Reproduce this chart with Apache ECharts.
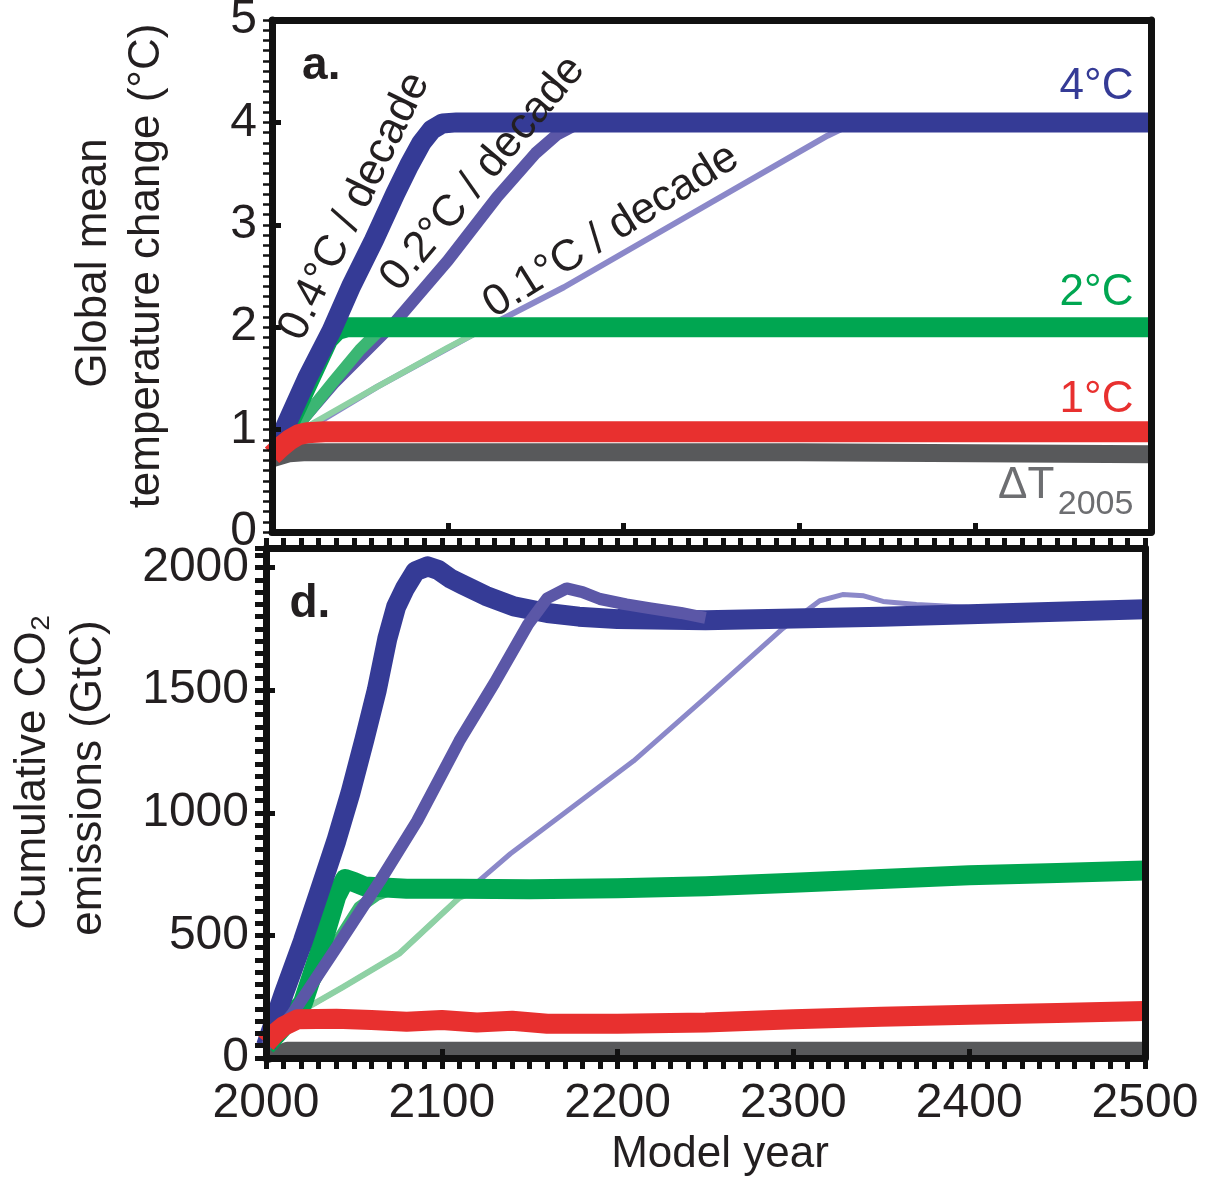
<!DOCTYPE html>
<html>
<head>
<meta charset="utf-8">
<script src="https://cdn.jsdelivr.net/npm/echarts@6/dist/echarts.min.js"></script>
<style>
  html, body { margin: 0; padding: 0; background: #fff; }
  #chart { width: 1214px; height: 1178px; }
</style>
</head>
<body>
<div id="chart"></div>
<script>
// x ticks (model year) and y ticks of both panels
const yearTicks = [2000, 2100, 2200, 2300, 2400, 2500];
const tempTicks = [0, 1, 2, 3, 4, 5];
const emisTicks = [0, 500, 1000, 1500, 2000];

// panel a: global mean temperature change (°C), [year, value]
const tGrey = [[2000, 0.72], [2010, 0.77], [2020, 0.78], [2100, 0.78], [2200, 0.78], [2300, 0.78], [2400, 0.77], [2500, 0.76]];
const tRed = [[2000, 0.75], [2005, 0.83], [2010, 0.9], [2015, 0.95], [2020, 0.97], [2030, 0.98], [2500, 0.98]];
const tGreen01 = [[2005, 0.85], [2020, 1.03], [2060, 1.42], [2100, 1.8], [2120, 1.98], [2126, 2.0]];
const tGreen02 = [[2005, 0.85], [2020, 1.15], [2035, 1.47], [2050, 1.78], [2060, 1.95], [2067, 2.0]];
const tGreen04 = [[2004, 0.85], [2015, 1.25], [2025, 1.62], [2032, 1.88], [2037, 1.97], [2043, 2.0], [2500, 2.0]];
const tBlue04 = [[2003, 0.85], [2010, 1.12], [2020, 1.5], [2034, 1.97], [2045, 2.4], [2058, 2.85], [2070, 3.3],
  [2078, 3.58], [2085, 3.8], [2091, 3.93], [2097, 3.99], [2105, 4.0], [2500, 4.0]];
const tBlue02 = [[2005, 0.85], [2035, 1.45], [2070, 2.05], [2100, 2.65], [2128, 3.27], [2150, 3.7], [2162, 3.88], [2172, 3.97], [2182, 4.0]];
const tBlue01 = [[2005, 0.85], [2060, 1.42], [2122, 2.0], [2166, 2.39], [2250, 3.22], [2316, 3.87], [2328, 3.97], [2340, 4.0]];

// panel d: cumulative CO2 emissions (GtC), [year, value]
const eGrey = [[2000, 5], [2012, 38], [2500, 38]];
const eRed = [[2000, 60], [2005, 100], [2010, 130], [2018, 158], [2040, 160], [2060, 155], [2080, 148], [2100, 155],
  [2120, 145], [2140, 152], [2160, 140], [2200, 140], [2250, 145], [2300, 158], [2350, 168], [2400, 176], [2450, 184], [2500, 192]];
const eGreen01 = [[2000, 50], [2010, 150], [2044, 290], [2076, 427], [2110, 654], [2122, 690]];
const eGreen02 = [[2000, 50], [2010, 130], [2020, 215], [2035, 411], [2053, 614], [2063, 665], [2072, 690]];
const eGreen04 = [[2000, 50], [2010, 130], [2021, 225], [2030, 420], [2040, 660], [2045, 730], [2050, 718], [2056, 700],
  [2080, 690], [2110, 690], [2150, 688], [2200, 692], [2250, 700], [2300, 715], [2350, 730], [2400, 745], [2450, 755], [2500, 765]];
const eBlue04 = [[2000, 50], [2010, 260], [2021, 477], [2030, 670], [2040, 886], [2048, 1080], [2056, 1299], [2063, 1500],
  [2069, 1710], [2074, 1840], [2079, 1915], [2085, 1985], [2092, 2005], [2098, 1990], [2105, 1955], [2112, 1930],
  [2125, 1885], [2141, 1842], [2160, 1815], [2178, 1800], [2200, 1790], [2250, 1785], [2300, 1792], [2350, 1800],
  [2400, 1810], [2450, 1820], [2500, 1830]];
const eBlue02 = [[2000, 50], [2015, 180], [2040, 450], [2065, 724], [2086, 967], [2110, 1293], [2130, 1530], [2149, 1768],
  [2160, 1875], [2171, 1915], [2180, 1900], [2190, 1872], [2205, 1850], [2218, 1835], [2236, 1815], [2250, 1795]];
const eBlue01 = [[2000, 50], [2010, 150], [2044, 290], [2076, 427], [2110, 654], [2139, 833], [2170, 1000], [2209, 1211],
  [2250, 1470], [2294, 1752], [2315, 1865], [2328, 1890], [2340, 1885], [2351, 1862], [2370, 1850], [2399, 1838]];

const FONT = "Liberation Sans";
const INK = "#231f20";
const C = {
  grey: "#58595b", red: "#e8302f",
  g1: "#8ed1a4", g2: "#3bb673", g4: "#00a651",
  b1: "#8b88c9", b2: "#5b57a7", b4: "#353b96"
};

let myChart = echarts.init(document.getElementById("chart"));

function line(name, data, xi, yi, color, width) {
  return {
    name: name, type: "line", data: data, xAxisIndex: xi, yAxisIndex: yi,
    symbol: "none", showSymbol: false, silent: true, animation: false,
    lineStyle: { color: color, width: width, cap: "butt", join: "round" }
  };
}

const frame = { show: true, onZero: false, lineStyle: { color: "#111", width: 7 } };
const noLine = { show: false, onZero: false };
const noLabel = { show: false };
const noSplit = { show: false };
const plain = function (v) { return String(v); };

var options = {
  backgroundColor: "#fff",
  animation: false,
  grid: [
    { left: 272, top: 20, width: 879, height: 512, outerBoundsMode: "none" },
    { left: 266, top: 548, width: 879, height: 510, outerBoundsMode: "none" },
    { left: 272, top: 20, width: 879, height: 512, outerBoundsMode: "none" },
    { left: 266, top: 548, width: 879, height: 510, outerBoundsMode: "none" }
  ],
  xAxis: [
    // panel a
    { gridIndex: 0, type: "value", position: "bottom", min: 2000, max: 2500, interval: 100, z: 10,
      axisLine: frame, axisLabel: noLabel, splitLine: noSplit,
      axisTick: { inside: true, length: 9, lineStyle: { color: "#111", width: 5 } } },
    { gridIndex: 0, type: "value", position: "top", min: 2000, max: 2500, interval: 100, z: 10,
      axisLine: frame, axisLabel: noLabel, splitLine: noSplit, axisTick: { show: false } },
    // panel d
    { gridIndex: 1, type: "value", position: "bottom", min: yearTicks[0], max: yearTicks[yearTicks.length - 1], interval: 100, z: 10,
      axisLine: frame, splitLine: noSplit,
      axisTick: { inside: true, length: 9, lineStyle: { color: "#111", width: 5 } },
      axisLabel: { fontSize: 48, fontFamily: FONT, color: INK, margin: 22, formatter: plain } },
    { gridIndex: 1, type: "value", position: "top", min: 2000, max: 2500, interval: 10, z: 10,
      axisLine: frame, axisLabel: noLabel, splitLine: noSplit,
      axisTick: { inside: false, length: 10, lineStyle: { color: "#111", width: 5 } } },
    // overlays for outside minor ticks
    { gridIndex: 2, type: "value", min: 2000, max: 2500, show: false },
    { gridIndex: 3, type: "value", position: "bottom", min: 2000, max: 2500, interval: 10, z: 10,
      axisLine: noLine, axisLabel: noLabel, splitLine: noSplit,
      axisTick: { inside: false, length: 11, lineStyle: { color: "#111", width: 5 } } }
  ],
  yAxis: [
    { gridIndex: 0, type: "value", position: "left", min: tempTicks[0], max: tempTicks[tempTicks.length - 1], interval: 1, z: 10,
      axisLine: frame, splitLine: noSplit,
      axisTick: { inside: true, length: 9, lineStyle: { color: "#111", width: 5 } },
      axisLabel: { fontSize: 48, fontFamily: FONT, color: INK, margin: 15, formatter: plain } },
    { gridIndex: 0, type: "value", position: "right", min: 0, max: 5, z: 10,
      axisLine: frame, axisLabel: noLabel, splitLine: noSplit, axisTick: { show: false } },
    { gridIndex: 1, type: "value", position: "left", min: emisTicks[0], max: 2080, interval: 500, z: 10,
      axisLine: frame, splitLine: noSplit,
      axisTick: { inside: true, length: 9, lineStyle: { color: "#111", width: 5 } },
      axisLabel: { fontSize: 48, fontFamily: FONT, color: INK, margin: 17, showMaxLabel: false, formatter: plain } },
    { gridIndex: 1, type: "value", position: "right", min: 0, max: 2080, z: 10,
      axisLine: frame, axisLabel: noLabel, splitLine: noSplit, axisTick: { show: false } },
    { gridIndex: 2, type: "value", position: "left", min: 0, max: 5, interval: 0.1, z: 10,
      axisLine: noLine, axisLabel: noLabel, splitLine: noSplit,
      axisTick: { inside: false, length: 9, lineStyle: { color: "#111", width: 2.5 } } },
    { gridIndex: 3, type: "value", position: "left", min: 0, max: 2080, interval: 50, z: 10,
      axisLine: noLine, axisLabel: noLabel, splitLine: noSplit,
      axisTick: { inside: false, length: 11, lineStyle: { color: "#111", width: 5 } } }
  ],
  // draw order: paler blue runs sit under the green runs they share a path with
  series: [
    line("ΔT2005", tGrey, 0, 0, C.grey, 18),
    line("4°C 0.1", tBlue01, 0, 0, C.b1, 6),
    line("4°C 0.2", tBlue02, 0, 0, C.b2, 12),
    line("2°C 0.1", tGreen01, 0, 0, C.g1, 6),
    line("2°C 0.2", tGreen02, 0, 0, C.g2, 12),
    line("2°C 0.4", tGreen04, 0, 0, C.g4, 20),
    line("4°C 0.4", tBlue04, 0, 0, C.b4, 20),
    line("1°C", tRed, 0, 0, C.red, 21),

    line("ΔT2005 d", eGrey, 2, 2, C.grey, 14),
    line("4°C 0.1 d", eBlue01, 2, 2, C.b1, 5),
    line("2°C 0.1 d", eGreen01, 2, 2, C.g1, 6),
    line("2°C 0.2 d", eGreen02, 2, 2, C.g2, 12),
    line("2°C 0.4 d", eGreen04, 2, 2, C.g4, 20),
    line("4°C 0.4 d", eBlue04, 2, 2, C.b4, 20),
    line("4°C 0.2 d", eBlue02, 2, 2, C.b2, 12),
    line("1°C d", eRed, 2, 2, C.red, 20)
  ]
};
myChart.setOption(options);

// text placed at data coordinates of each panel
const notes = [
  { text: "a.", at: [2028, 4.55], p: 0, size: 46, bold: true, align: "center" },
  { text: "4°C", at: [2490, 4.35], p: 0, color: C.b4, align: "right" },
  { text: "2°C", at: [2490, 2.34], p: 0, color: C.g4, align: "right" },
  { text: "1°C", at: [2490, 1.29], p: 0, color: C.red, align: "right" },
  { text: "ΔT", at: [2445, 0.45], p: 0, color: "#6d6e71", align: "right" },
  { text: "2005", at: [2490, 0.27], p: 0, size: 34, color: "#6d6e71", align: "right" },
  { text: "0.4°C / decade", at: [2047, 3.18], p: 0, rot: 64 },
  { text: "0.2°C / decade", at: [2120, 3.5], p: 0, rot: 50 },
  { text: "0.1°C / decade", at: [2193, 2.94], p: 0, rot: 32 },
  { text: "d.", at: [2025, 1850], p: 1, size: 46, bold: true, align: "center" }
];

function textEl(text, x, y, o) {
  return {
    type: "text", x: x, y: y, rotation: (o.rot || 0) * Math.PI / 180, silent: true, z: 20,
    style: {
      text: text, fill: o.color || INK, fontSize: o.size || 44, fontFamily: FONT,
      fontWeight: o.bold ? "bold" : "normal",
      align: o.align || "center", verticalAlign: "middle",
      textAlign: o.align || "center", textVerticalAlign: "middle"
    }
  };
}

const graphics = notes.map(function (n) {
  const idx = n.p === 0 ? { xAxisIndex: 0, yAxisIndex: 0 } : { xAxisIndex: 2, yAxisIndex: 2 };
  const pt = myChart.convertToPixel(idx, n.at);
  return textEl(n.text, pt[0], pt[1], n);
});

// axis titles
graphics.push(textEl("Global mean", 94, 263, { rot: 90 }));
graphics.push(textEl("temperature change (°C)", 147, 266, { rot: 90 }));
graphics.push(textEl("Cumulative CO₂", 33, 772, { rot: 90 }));
graphics.push(textEl("emissions (GtC)", 89, 778, { rot: 90 }));
graphics.push(textEl("Model year", 720, 1155, {}));

myChart.setOption({ graphic: graphics });
</script>
</body>
</html>
